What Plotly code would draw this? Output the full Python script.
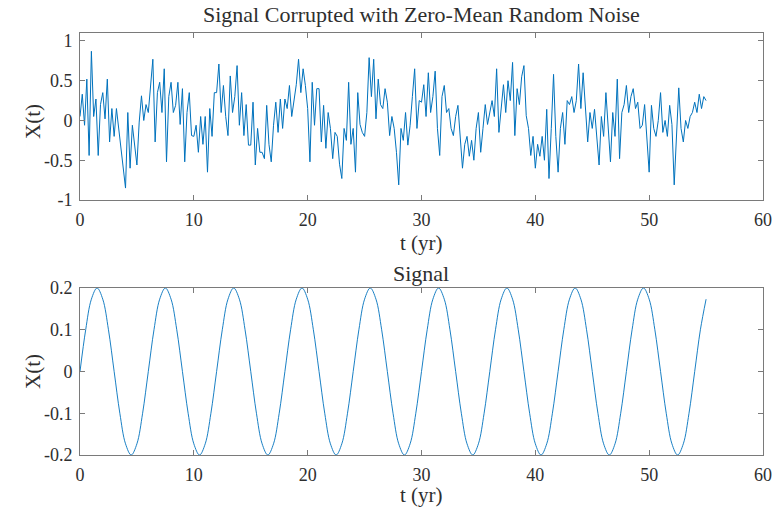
import plotly.graph_objects as go

# ---- data ----
noisy_t_step = 0.2
noisy_values = [
    0.05, 0.33, -0.06, 0.52, -0.44,
    0.87, 0.05, 0.27, -0.44, 0.20,
    0.35, 0.02, 0.52, -0.27, 0.15,
    -0.20, 0.15, -0.10, -0.35, -0.55,
    -0.85, 0.10, -0.60, -0.06, -0.30,
    -0.56, -0.02, 0.31, 0.00, 0.20,
    0.10, 0.44, 0.77, -0.27, 0.35,
    0.48, 0.10, 0.65, -0.52, 0.30,
    0.48, 0.10, 0.19, 0.48, -0.05,
    0.40, -0.52, 0.10, 0.35, -0.19,
    -0.20, -0.06, -0.40, 0.05, -0.30,
    0.05, -0.65, 0.15, -0.20, 0.35,
    0.35, 0.71, 0.10, 0.44, 0.05,
    -0.19, 0.56, 0.10, 0.30, 0.69,
    -0.06, 0.35, -0.19, 0.20, -0.31,
    -0.31, 0.23, -0.56, -0.10, -0.40,
    -0.40, -0.48, 0.19, -0.30, -0.52,
    -0.06, 0.23, -0.15, 0.27, -0.10,
    0.27, 0.15, 0.44, 0.05, 0.25,
    0.45, 0.77, 0.35, 0.65, 0.44,
    0.15, -0.52, 0.48, -0.06, 0.40,
    0.40, -0.27, 0.19, -0.35, 0.10,
    -0.10, -0.48, -0.15, -0.20, -0.55,
    -0.73, -0.10, -0.25, 0.48, -0.30,
    -0.10, -0.65, 0.35, -0.05, -0.15,
    -0.20, 0.10, 0.79, 0.30, 0.77,
    0.02, 0.52, 0.20, 0.15, 0.40,
    0.23, -0.19, 0.05, -0.10, -0.40,
    -0.81, -0.10, -0.25, 0.10, -0.31,
    -0.06, 0.30, 0.65, -0.10, 0.25,
    0.23, 0.45, 0.05, 0.60, 0.10,
    0.30, 0.62, -0.10, -0.44, 0.30,
    0.44, 0.10, 0.15, -0.10, -0.19,
    0.05, 0.19, -0.20, -0.60, -0.30,
    -0.20, -0.45, -0.25, -0.50, -0.10,
    0.10, -0.40, -0.10, 0.20, -0.05,
    0.10, 0.25, 0.05, 0.65, -0.15,
    0.20, 0.45, 0.10, 0.50, 0.25,
    0.73, -0.19, 0.40, 0.20, 0.55,
    0.69, 0.06, -0.10, -0.44, -0.20,
    -0.60, -0.30, -0.45, -0.20, -0.50,
    0.14, -0.73, -0.10, 0.58, -0.20,
    -0.65, -0.10, 0.10, -0.30, 0.25,
    0.20, 0.30, 0.10, 0.25, 0.71,
    0.15, 0.60, 0.20, -0.27, 0.10,
    -0.10, 0.14, -0.20, -0.56, 0.05,
    -0.20, 0.35, -0.10, -0.52, 0.10,
    -0.20, 0.52, -0.48, 0.10, 0.20,
    0.44, 0.10, 0.30, 0.40, 0.15,
    0.23, -0.10, -0.06, 0.20, -0.30,
    -0.65, 0.19, -0.10, -0.20, 0.00,
    0.35, -0.15, 0.00, -0.20, 0.19,
    -0.05, -0.81, -0.10, 0.41, -0.10,
    -0.27, 0.00, -0.10, 0.05, 0.10,
    0.23, 0.10, 0.33, 0.15, 0.30,
    0.25,
]
noisy_t = [round(i * noisy_t_step, 2) for i in range(len(noisy_values))]

signal_t_step = 0.5
signal_values = [
    0.0, 0.1, 0.1732, 0.2, 0.1732, 0.1, 0.0, -0.1, -0.1732, -0.2, -0.1732, -0.1,
    0.0, 0.1, 0.1732, 0.2, 0.1732, 0.1, 0.0, -0.1, -0.1732, -0.2, -0.1732, -0.1,
    0.0, 0.1, 0.1732, 0.2, 0.1732, 0.1, 0.0, -0.1, -0.1732, -0.2, -0.1732, -0.1,
    0.0, 0.1, 0.1732, 0.2, 0.1732, 0.1, 0.0, -0.1, -0.1732, -0.2, -0.1732, -0.1,
    0.0, 0.1, 0.1732, 0.2, 0.1732, 0.1, 0.0, -0.1, -0.1732, -0.2, -0.1732, -0.1,
    0.0, 0.1, 0.1732, 0.2, 0.1732, 0.1, 0.0, -0.1, -0.1732, -0.2, -0.1732, -0.1,
    0.0, 0.1, 0.1732, 0.2, 0.1732, 0.1, 0.0, -0.1, -0.1732, -0.2, -0.1732, -0.1,
    0.0, 0.1, 0.1732, 0.2, 0.1732, 0.1, 0.0, -0.1, -0.1732, -0.2, -0.1732, -0.1,
    0.0, 0.1, 0.1732, 0.2, 0.1732, 0.1, 0.0, -0.1, -0.1732, -0.2, -0.1732, -0.1,
    0.0, 0.1, 0.1732,
]
signal_t = [round(i * signal_t_step, 2) for i in range(len(signal_values))]

x_ticks = [0, 10, 20, 30, 40, 50, 60]
x_ticktext = ["0", "10", "20", "30", "40", "50", "60"]
y1_ticks = [-1, -0.5, 0, 0.5, 1]
y1_ticktext = ["-1", "-0.5", "0", "0.5", "1"]
y2_ticks = [-0.2, -0.1, 0, 0.1, 0.2]
y2_ticktext = ["-0.2", "-0.1", "0", "0.1", "0.2"]

title_top = "Signal Corrupted with Zero-Mean Random Noise"
title_bottom = "Signal"
x_label = "t (yr)"
y_label = "X(t)"

# ---- figure ----
FONT = "Liberation Serif, Times New Roman, serif"
LINE_COLOR = "#0072BD"
AX_COLOR = "#7a7a7a"
TXT_COLOR = "#2e2e2e"

fig = go.Figure()
fig.add_trace(go.Scatter(x=noisy_t, y=noisy_values, mode="lines",
                         line=dict(color=LINE_COLOR, width=1),
                         xaxis="x", yaxis="y", showlegend=False))
fig.add_trace(go.Scatter(x=signal_t, y=signal_values, mode="lines",
                         line=dict(color=LINE_COLOR, width=0.9, shape="spline", smoothing=1.0),
                         xaxis="x2", yaxis="y2", showlegend=False))

axis_common = dict(showline=True, mirror="ticks", linecolor=AX_COLOR, linewidth=1,
                   ticks="inside", ticklen=5, tickcolor=AX_COLOR, showgrid=False,
                   zeroline=False, automargin=False, ticklabeloverflow="allow",
                   tickfont=dict(family=FONT, size=18, color=TXT_COLOR))

top_dom = [(455 - 200) / 422, 1.0]
bot_dom = [0.0, (455 - 288) / 422]

fig.update_layout(
    width=773, height=518,
    margin=dict(l=80, r=10, t=33, b=63),
    paper_bgcolor="white", plot_bgcolor="white",
    font=dict(family=FONT, color=TXT_COLOR),
    xaxis=dict(range=[0, 60], tickvals=x_ticks, ticktext=x_ticktext, domain=[0, 1],
               anchor="y", ticklabelstandoff=3, **axis_common),
    yaxis=dict(range=[-1, 1.1], tickvals=y1_ticks, ticktext=y1_ticktext, domain=top_dom,
               anchor="x", ticklabelstandoff=3, **axis_common),
    xaxis2=dict(range=[0, 60], tickvals=x_ticks, ticktext=x_ticktext, domain=[0, 1],
                anchor="y2", ticklabelstandoff=3, **axis_common),
    yaxis2=dict(range=[-0.2, 0.2], tickvals=y2_ticks, ticktext=y2_ticktext, domain=bot_dom,
                anchor="x2", ticklabelstandoff=3, **axis_common),
)

def px_to_paper_y(py):
    return (455 - py) / 422

def px_to_paper_x(px):
    return (px - 80) / 683

annos = [
    (title_top, 421, 15, 22, 0),
    (title_bottom, 421, 273, 22, 0),
    (x_label, 421, 243, 21, 0),
    (x_label, 421, 495, 21, 0),
    (y_label, 33, 122, 21, -90),
    (y_label, 33, 372, 21, -90),
]
for text, px, py, size, ang in annos:
    fig.add_annotation(text=text, x=px_to_paper_x(px), y=px_to_paper_y(py),
                       xref="paper", yref="paper", showarrow=False,
                       xanchor="center", yanchor="middle", textangle=ang,
                       font=dict(family=FONT, size=size, color=TXT_COLOR))

fig.write_html("out.html", config={"displayModeBar": False},
               post_script="document.body.style.margin='0';document.body.style.overflow='hidden';")
